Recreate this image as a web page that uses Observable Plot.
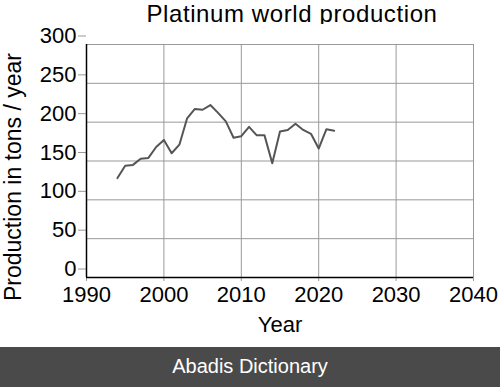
<!DOCTYPE html>
<html>
<head>
<meta charset="utf-8">
<script src="https://cdn.jsdelivr.net/npm/d3@7"></script>
<script src="https://cdn.jsdelivr.net/npm/@observablehq/plot@0.6"></script>
<style>
  html, body { margin: 0; padding: 0; background: #fff; }
  body { position: relative; width: 500px; height: 387px; overflow: hidden; font-family: "Liberation Sans", Arial, sans-serif; }
  #title { position: absolute; left: 84px; top: 0px; width: 416px; height: 27px; line-height: 27px; font-size: 24px; letter-spacing: 0.6px; text-align: center; color: #000; white-space: nowrap; }
  #chart { position: absolute; left: 0; top: 24px; width: 500px; height: 323px; }
  #banner { position: absolute; left: 0; top: 347px; width: 500px; height: 40px; background: #4a4a4a; color: #fff; text-align: center; line-height: 38px; font-size: 20px; }
</style>
</head>
<body>
<div id="title">Platinum world production</div>
<div id="chart"></div>
<div id="banner">Abadis Dictionary</div>
<script>
const years = [1994,1995,1996,1997,1998,1999,2000,2001,2002,2003,2004,2005,2006,2007,2008,2009,2010,2011,2012,2013,2014,2015,2016,2017,2018,2019,2020,2021,2022];
const production = [128,144,145,153,154,168,177,160,171,205,217,216,222,212,201,180,182,194,183,183,147,188,190,198,190,185,166,191,189];
const xTicks = [1990,2000,2010,2020,2030,2040];
const yTicks = [0,50,100,150,200,250,300];
const xLabel = "Year";
const yLabel = "Production in tons / year";

const data = years.map((y, i) => ({year: y, value: production[i]}));

const plot = Plot.plot({
  width: 500,
  height: 323,
  marginTop: 20,
  marginBottom: 70,
  marginLeft: 86,
  marginRight: 27,
  style: {fontFamily: "Liberation Sans, Arial, sans-serif", fontSize: "22px", color: "#000", background: "#fff", overflow: "visible"},
  x: {domain: [1990, 2040]},
  y: {domain: [0, 300]},
  marks: [
    Plot.gridX(xTicks, {stroke: "#999", strokeOpacity: 1, strokeWidth: 1}),
    Plot.gridY(yTicks, {stroke: "#999", strokeOpacity: 1, strokeWidth: 1}),
    Plot.axisX({ticks: xTicks, tickFormat: d => String(d), tickSize: 4, stroke: "#999", tickPadding: 5, fontSize: 22, label: xLabel, labelAnchor: "center", labelArrow: "none", labelOffset: 54}),
    Plot.axisY({ticks: yTicks, tickSize: 8, stroke: "#999", tickPadding: 2, fontSize: 22, dy: -8.5, label: null}),
    Plot.text([yLabel], {frameAnchor: "left", text: d => d, rotate: -90, textAnchor: "middle", lineAnchor: "top", dx: -82, dy: 16, fontSize: 23, fill: "#000"}),
    Plot.ruleX([1990], {stroke: "#000", strokeWidth: 1.5}),
    Plot.ruleY([0], {stroke: "#000", strokeWidth: 1.5}),
    Plot.line(data, {x: "year", y: "value", stroke: "#555", strokeWidth: 2})
  ]
});
document.getElementById("chart").appendChild(plot);
</script>
</body>
</html>
